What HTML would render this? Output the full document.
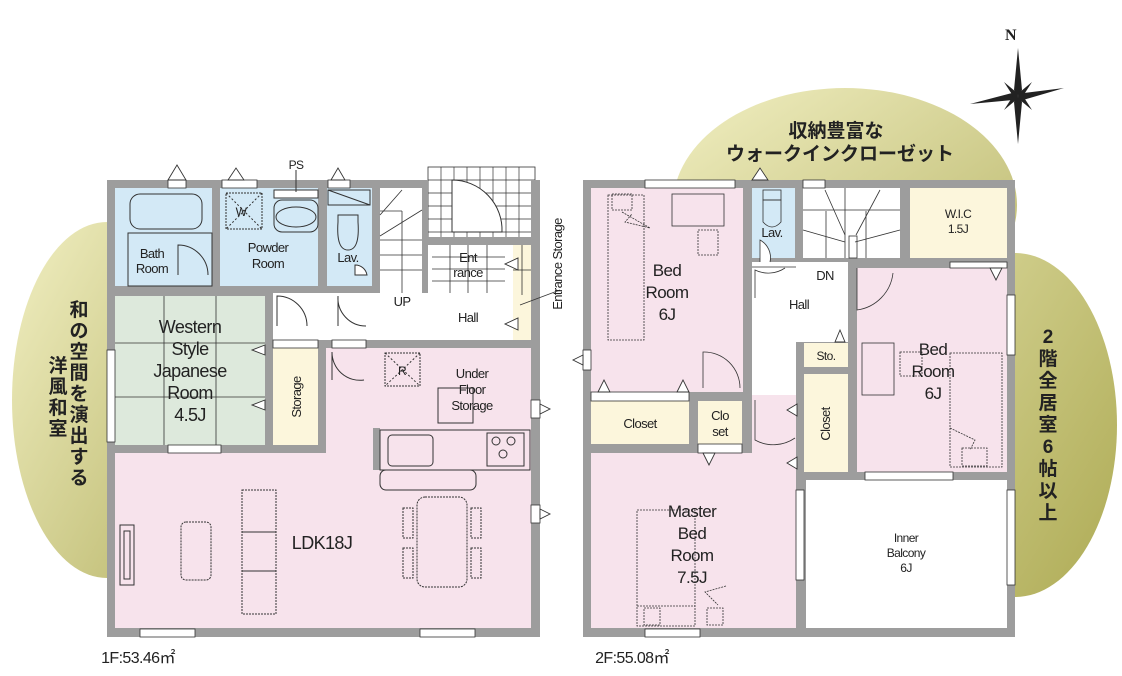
<!DOCTYPE html>
<html><head><meta charset="utf-8"><style>
html,body{margin:0;padding:0;background:#fff;}
svg{display:block;}
text{font-family:"Liberation Sans","Noto Sans CJK JP",sans-serif;fill:#222;letter-spacing:-0.6px;}
.jp{font-family:"Noto Sans CJK JP",sans-serif;font-weight:bold;fill:#333;}
.jp text{letter-spacing:0;}
</style></head><body>
<svg width="1122" height="676" viewBox="0 0 1122 676" xmlns="http://www.w3.org/2000/svg">
<defs>
<linearGradient id="g1" x1="0" y1="0" x2="1" y2="1"><stop offset="0" stop-color="#f1efc2"/><stop offset="1" stop-color="#b9b66a"/></linearGradient>
<linearGradient id="g2" x1="0" y1="0" x2="1" y2="1"><stop offset="0" stop-color="#d9d79a"/><stop offset="1" stop-color="#aeab55"/></linearGradient>
</defs>
<ellipse cx="107" cy="400" rx="95" ry="178" fill="url(#g1)"/>
<ellipse cx="845" cy="205" rx="172" ry="117" fill="url(#g1)"/>
<ellipse cx="1015" cy="425" rx="102" ry="172" fill="url(#g2)"/>

<g transform="translate(1018,96)" fill="#222">
<polygon points="0,-48 4,-6 0,0 -4,-6"/><polygon points="0,48 4,6 0,0 -4,6"/>
<polygon points="-48,8 -6,-3 0,0 -5,4"/><polygon points="46,-8 6,-3 0,0 5,4"/>
<polygon points="-14,-14 -2,-4 0,0 -5,0"/><polygon points="14,-14 2,-4 0,0 5,0"/>
<polygon points="-14,14 -2,4 0,0 -5,0"/><polygon points="14,14 2,4 0,0 5,0"/>
</g>
<text x="1005" y="40" font-size="16" font-weight="bold" style="font-family:'Liberation Serif',serif">N</text>

<rect x="428" y="167" width="107" height="75" fill="#fff" stroke="#333" stroke-width="0.8"/>
<g stroke="#333" stroke-width="0.7">
<line x1="428" y1="180" x2="535" y2="180"/><line x1="428" y1="193" x2="535" y2="193"/><line x1="428" y1="206" x2="535" y2="206"/><line x1="428" y1="219" x2="535" y2="219"/><line x1="428" y1="232" x2="535" y2="232"/>
<line x1="441" y1="167" x2="441" y2="242"/><line x1="454" y1="167" x2="454" y2="242"/><line x1="467" y1="167" x2="467" y2="242"/><line x1="480" y1="167" x2="480" y2="242"/><line x1="493" y1="167" x2="493" y2="242"/><line x1="506" y1="167" x2="506" y2="242"/><line x1="519" y1="167" x2="519" y2="242"/>
</g>
<path d="M452,180 L452,232 L502,232 A50,50 0 0 0 452,180 Z" fill="#fff" stroke="#333"/>
<rect x="107" y="180" width="321" height="457" fill="#9d9d9d"/>
<rect x="428" y="293" width="112" height="344" fill="#9d9d9d"/>
<rect x="531" y="180" width="9" height="120" fill="#9d9d9d"/>
<rect x="428" y="237" width="107" height="8" fill="#9d9d9d"/>
<rect x="115" y="188" width="97" height="98" fill="#d3e9f6"/>
<rect x="220" y="188" width="98" height="98" fill="#d3e9f6"/>
<rect x="327" y="188" width="45" height="98" fill="#d3e9f6"/>
<rect x="380" y="188" width="42" height="105" fill="#fff"/>
<rect x="432" y="245" width="73" height="48" fill="#fff"/>
<rect x="273" y="293" width="240" height="47" fill="#fff"/>
<rect x="505" y="245" width="8" height="95" fill="#fff"/>
<rect x="513" y="245" width="18" height="95" fill="#fcf6dc"/>
<rect x="115" y="296" width="150" height="149" fill="#dde9dc"/>
<rect x="273" y="348" width="45" height="97" fill="#fcf6dc"/>
<rect x="326" y="348" width="205" height="110" fill="#f7e3ec"/>
<rect x="115" y="453" width="416" height="175" fill="#f7e3ec"/>
<rect x="373" y="428" width="7" height="42" fill="#9d9d9d"/>
<g stroke="#333" stroke-width="0.8" fill="none">
<line x1="380" y1="240" x2="422" y2="240"/><line x1="380" y1="255" x2="422" y2="255"/><line x1="380" y1="270" x2="422" y2="270"/>
<line x1="402" y1="211" x2="402" y2="293"/><line x1="380" y1="211" x2="402" y2="211"/>
<line x1="380" y1="236" x2="422" y2="210"/><line x1="380" y1="215" x2="402" y2="190"/>
<line x1="432" y1="269" x2="505" y2="269"/><line x1="450" y1="245" x2="450" y2="293"/><line x1="468" y1="245" x2="468" y2="293"/><line x1="487" y1="245" x2="487" y2="293"/><line x1="432" y1="257" x2="505" y2="257"/><line x1="432" y1="281" x2="505" y2="281"/>
<line x1="513" y1="270" x2="531" y2="270"/><line x1="522" y1="245" x2="522" y2="295"/>
<line x1="520" y1="305" x2="560" y2="290"/>
<line x1="164" y1="296" x2="164" y2="445"/><line x1="216" y1="296" x2="216" y2="445"/>
<line x1="115" y1="343" x2="265" y2="343"/><line x1="115" y1="397" x2="265" y2="397"/>
</g>
<g stroke="#333" stroke-width="1" fill="none">
<rect x="130" y="194" width="72" height="35" rx="10"/>
<rect x="128" y="233" width="84" height="53"/>
<path d="M178,275 L178,245 A30,30 0 0 1 208,275"/>
<rect x="226" y="193" width="36" height="36" stroke-dasharray="2,1"/>
<line x1="226" y1="193" x2="262" y2="229" stroke-dasharray="2,2"/><line x1="262" y1="193" x2="226" y2="229" stroke-dasharray="2,2"/>
<rect x="274" y="200" width="44" height="32" rx="8"/><ellipse cx="296" cy="217" rx="20" ry="10"/>
<rect x="274" y="190" width="44" height="8" fill="#fff"/>
<line x1="296" y1="170" x2="296" y2="192"/>
<rect x="328" y="190" width="42" height="15" fill="#d3e9f6"/><line x1="328" y1="190" x2="370" y2="205"/>
<path d="M338,215 L358,215 L358,222 Q360,250 348,250 Q336,250 338,222 Z"/>
<path d="M355,275 L355,265 A12,12 0 0 1 367,275 Z" fill="#fff"/>
<path d="M277,326 L277,296 A30,30 0 0 1 307,326"/>
<path d="M338,326 L338,296 A28,28 0 0 0 366,326"/>
<path d="M332,380 L332,352 A28,28 0 0 0 364,380"/>
<rect x="385" y="353" width="35" height="33" stroke-dasharray="2,1"/>
<line x1="385" y1="353" x2="420" y2="386" stroke-dasharray="2,2"/><line x1="420" y1="353" x2="385" y2="386" stroke-dasharray="2,2"/>
<rect x="438" y="388" width="35" height="35"/>
<rect x="380" y="430" width="150" height="40" fill="#f7e3ec"/>
<rect x="388" y="435" width="45" height="31" rx="4"/>
<circle cx="496" cy="441" r="4"/><circle cx="511" cy="441" r="4"/><circle cx="503" cy="454" r="4"/>
<rect x="487" y="433" width="37" height="33"/>
<rect x="380" y="470" width="96" height="20" rx="6" fill="#f7e3ec"/>
<rect x="120" y="525" width="14" height="60"/><rect x="124" y="531" width="6" height="48"/>
<rect x="181" y="522" width="30" height="58" rx="5" stroke-dasharray="2,1"/>
<rect x="242" y="490" width="34" height="124" stroke-dasharray="2,1"/>
<line x1="242" y1="532" x2="276" y2="532"/><line x1="242" y1="571" x2="276" y2="571"/>
<rect x="417" y="497" width="50" height="90" rx="8" stroke-dasharray="2,1"/>
<rect x="403" y="508" width="10" height="30" stroke-dasharray="2,1"/><rect x="403" y="548" width="10" height="30" stroke-dasharray="2,1"/>
<rect x="471" y="508" width="10" height="30" stroke-dasharray="2,1"/><rect x="471" y="548" width="10" height="30" stroke-dasharray="2,1"/>
</g>
<g fill="#fff" stroke="#333" stroke-width="0.8">
<rect x="168" y="180" width="18" height="8"/><rect x="222" y="180" width="35" height="8"/><rect x="328" y="180" width="22" height="8"/>
<rect x="107" y="350" width="8" height="92"/><rect x="168" y="445" width="53" height="8"/>
<rect x="140" y="629" width="55" height="8"/><rect x="420" y="629" width="55" height="8"/>
<rect x="531" y="400" width="9" height="18"/><rect x="531" y="505" width="9" height="18"/>
<rect x="273" y="340" width="45" height="8"/><rect x="332" y="340" width="34" height="8"/>
</g>
<g fill="#fff" stroke="#333" stroke-width="0.9">
<polygon points="168,180 177,165 186,180"/><polygon points="228,180 236,168 244,180"/><polygon points="331,180 338,168 345,180"/>
<polygon points="265,355 252,350 265,345"/><polygon points="265,410 252,405 265,400"/>
<polygon points="518,270 505,264 518,258"/><polygon points="518,330 505,324 518,318"/>
<polygon points="540,404 550,409 540,414"/><polygon points="540,509 550,514 540,519"/>
</g>
<g font-size="13" text-anchor="middle">
<text x="152" y="258">Bath</text><text x="152" y="273">Room</text>
<text x="268" y="252">Powder</text><text x="268" y="268">Room</text>
<text x="348" y="262">Lav.</text>
<text x="241" y="216" font-size="12">W</text>
<text x="296" y="169" font-size="12">PS</text>
<text x="468" y="262">Ent</text><text x="468" y="277">rance</text>
<text x="402" y="306">UP</text><text x="468" y="322">Hall</text>
<text x="402" y="375" font-size="12">R</text>
<text x="472" y="378">Under</text><text x="472" y="394">Floor</text><text x="472" y="410">Storage</text>
<text x="190" y="333" font-size="18">Western</text><text x="190" y="355" font-size="18">Style</text><text x="190" y="377" font-size="18">Japanese</text><text x="190" y="399" font-size="18">Room</text><text x="190" y="421" font-size="18">4.5J</text>
<text x="322" y="549" font-size="18">LDK18J</text>
<text x="138" y="663" font-size="16">1F:53.46㎡</text>
</g>
<text x="0" y="0" font-size="13" text-anchor="middle" transform="translate(301,397) rotate(-90)">Storage</text>
<text x="0" y="0" font-size="13" text-anchor="middle" transform="translate(562,264) rotate(-90)">Entrance Storage</text>

<rect x="583" y="180" width="432" height="457" fill="#9d9d9d"/>
<rect x="591" y="188" width="152" height="204" fill="#f7e3ec"/>
<rect x="752" y="188" width="43" height="70" fill="#d3e9f6"/>
<rect x="803" y="188" width="97" height="70" fill="#fff"/>
<rect x="910" y="188" width="97" height="70" fill="#fcf6dc"/>
<rect x="752" y="262" width="96" height="80" fill="#fff"/>
<rect x="752" y="342" width="44" height="53" fill="#fff"/>
<rect x="857" y="268" width="150" height="204" fill="#f7e3ec"/>
<rect x="591" y="401" width="98" height="43" fill="#fcf6dc"/>
<rect x="698" y="401" width="44" height="43" fill="#fcf6dc"/>
<rect x="804" y="343" width="44" height="24" fill="#fcf6dc"/>
<rect x="804" y="374" width="44" height="98" fill="#fcf6dc"/>
<rect x="591" y="453" width="205" height="175" fill="#f7e3ec"/>
<rect x="752" y="395" width="44" height="60" fill="#f7e3ec"/>
<rect x="806" y="480" width="201" height="148" fill="#fff"/>
<g stroke="#333" stroke-width="0.8" fill="none">
<line x1="803" y1="210" x2="900" y2="210"/><line x1="845" y1="188" x2="845" y2="258"/>
<line x1="826" y1="211" x2="826" y2="258"/><line x1="866" y1="211" x2="866" y2="258"/>
<line x1="803" y1="230" x2="845" y2="242"/><line x1="900" y1="230" x2="855" y2="242"/>
<line x1="825" y1="190" x2="845" y2="235"/><line x1="880" y1="190" x2="856" y2="235"/>
<rect x="849" y="236" width="8" height="22"/>
<line x1="752" y1="267" x2="796" y2="267"/>
<rect x="608" y="195" width="36" height="145" stroke-dasharray="2,1"/>
<rect x="612" y="194" width="20" height="16" stroke-dasharray="2,1"/>
<polyline points="622,212 650,228 625,222 632,214" stroke-dasharray="2,1"/>
<rect x="672" y="194" width="52" height="32"/>
<rect x="698" y="230" width="20" height="25" stroke-dasharray="2,1"/>
<rect x="763" y="190" width="18" height="10"/>
<path d="M763,200 L781,200 L781,222 Q772,232 763,222 Z"/>
<path d="M760,262 L760,240 A20,20 0 0 1 770,262" fill="#fff"/>
<path d="M755,298 L755,270 A30,30 0 0 0 785,268"/>
<path d="M857,268 L857,310 A42,42 0 0 0 893,273"/>
<path d="M703,388 L703,352 A36,36 0 0 1 740,388"/>
<path d="M755,400 L755,440 A38,38 0 0 0 795,438"/>
<rect x="862" y="343" width="32" height="52"/>
<rect x="900" y="352" width="22" height="24" stroke-dasharray="2,1"/>
<rect x="950" y="353" width="52" height="114" stroke-dasharray="2,1"/>
<rect x="962" y="448" width="25" height="18" stroke-dasharray="2,1"/>
<polyline points="950,428 975,440 970,450" stroke-dasharray="2,1"/>
<rect x="637" y="510" width="58" height="116" stroke-dasharray="2,1"/>
<line x1="637" y1="606" x2="695" y2="606" stroke-dasharray="2,1"/>
<rect x="644" y="608" width="16" height="17" stroke-dasharray="2,1"/><rect x="707" y="608" width="16" height="17" stroke-dasharray="2,1"/>
<polyline points="726,586 705,592 718,605" stroke-dasharray="2,1"/>
</g>
<g fill="#fff" stroke="#333" stroke-width="0.8">
<rect x="645" y="180" width="90" height="8"/><rect x="803" y="180" width="22" height="8"/>
<rect x="583" y="350" width="8" height="20"/>
<rect x="1007" y="295" width="8" height="60"/><rect x="1007" y="490" width="8" height="95"/>
<rect x="865" y="472" width="88" height="8"/>
<rect x="796" y="490" width="8" height="90"/>
<rect x="645" y="629" width="55" height="8"/>
<rect x="591" y="392" width="98" height="9"/><rect x="698" y="444" width="44" height="9"/>
<rect x="950" y="262" width="57" height="6"/>
</g>
<g fill="#fff" stroke="#333" stroke-width="0.9">
<polygon points="752,180 760,168 768,180"/>
<polygon points="598,392 604,380 610,392"/><polygon points="677,392 683,380 689,392"/>
<polygon points="703,453 709,465 715,453"/>
<polygon points="787,410 797,404 797,416"/><polygon points="787,463 797,457 797,469"/>
<polygon points="835,342 840,330 845,342"/>
<polygon points="990,268 996,280 1002,268"/>
<polygon points="583,355 573,360 583,365"/>
</g>
<g font-size="13" text-anchor="middle">
<text x="667" y="276" font-size="17">Bed</text><text x="667" y="298" font-size="17">Room</text><text x="667" y="320" font-size="17">6J</text>
<text x="772" y="237">Lav.</text>
<text x="958" y="218" font-size="12">W.I.C</text><text x="958" y="233" font-size="12">1.5J</text>
<text x="825" y="280">DN</text><text x="799" y="309">Hall</text>
<text x="826" y="360" font-size="12">Sto.</text>
<text x="640" y="428">Closet</text>
<text x="720" y="420">Clo</text><text x="720" y="436">set</text>
<text x="933" y="355" font-size="17">Bed</text><text x="933" y="377" font-size="17">Room</text><text x="933" y="399" font-size="17">6J</text>
<text x="692" y="517" font-size="17">Master</text><text x="692" y="539" font-size="17">Bed</text><text x="692" y="561" font-size="17">Room</text><text x="692" y="583" font-size="17">7.5J</text>
<text x="906" y="542" font-size="12">Inner</text><text x="906" y="557" font-size="12">Balcony</text><text x="906" y="572" font-size="12">6J</text>
<text x="632" y="663" font-size="16">2F:55.08㎡</text>
</g>
<text x="0" y="0" font-size="13" text-anchor="middle" transform="translate(830,424) rotate(-90)">Closet</text>

<g class="jp" font-size="19" text-anchor="middle">
<text x="836" y="137">収納豊富な</text>
<text x="840" y="160">ウォークインクローゼット</text>
<text x="79" y="316">和</text><text x="79" y="337">の</text><text x="79" y="358">空</text><text x="79" y="379">間</text><text x="79" y="400">を</text><text x="79" y="421">演</text><text x="79" y="442">出</text><text x="79" y="463">す</text><text x="79" y="484">る</text>
<text x="58" y="372">洋</text><text x="58" y="393">風</text><text x="58" y="414">和</text><text x="58" y="435">室</text>
<text x="1048" y="343">2</text><text x="1048" y="365">階</text><text x="1048" y="387">全</text><text x="1048" y="409">居</text><text x="1048" y="431">室</text><text x="1048" y="453">6</text><text x="1048" y="475">帖</text><text x="1048" y="497">以</text><text x="1048" y="519">上</text>
</g>
</svg>
</body></html>
